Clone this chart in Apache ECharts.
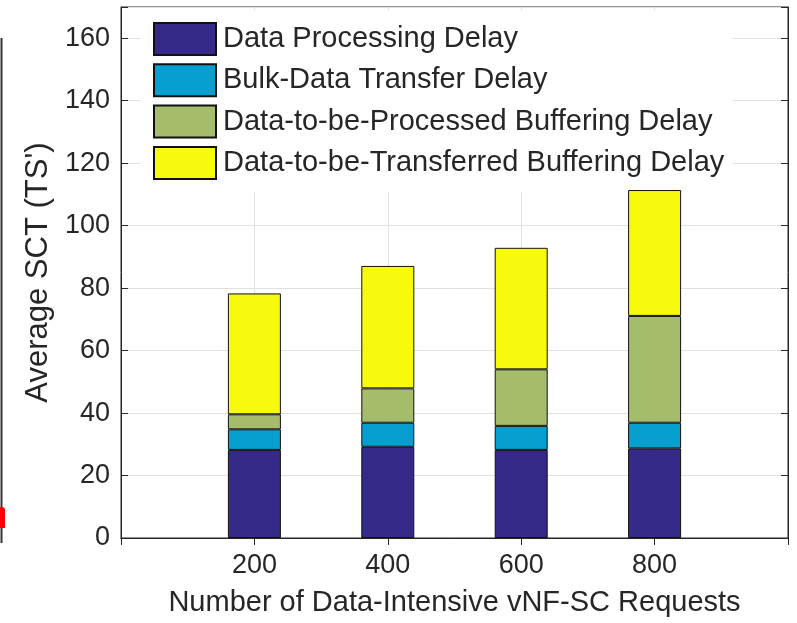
<!DOCTYPE html>
<html>
<head>
<meta charset="utf-8">
<script src="https://cdn.jsdelivr.net/npm/echarts@6/dist/echarts.min.js"></script>
<style>html,body{margin:0;padding:0;background:#fff;}#c{width:797px;height:623px;}</style>
</head>
<body>
<div id="c"></div>
<script>
const categories = [200, 400, 600, 800];
const axisEnds = [0, 1000];
const processingDelay = [28.2, 29.2, 28.2, 28.7];
const bulkTransferDelay = [6.6, 7.7, 7.7, 8.2];
const processedBufferDelay = [4.8, 11.0, 18.1, 34.2];
const transferredBufferDelay = [38.7, 39.2, 38.9, 40.3];
const seriesNames = ['Data Processing Delay', 'Bulk-Data Transfer Delay', 'Data-to-be-Processed Buffering Delay', 'Data-to-be-Transferred Buffering Delay'];
const colors = ['#352a87', '#069fcf', '#a5bd6a', '#f8fa0d'];

const FONT = 'Liberation Sans, Arial, Helvetica, sans-serif';
const TXT = '#262626';
const chart = echarts.init(document.getElementById('c'), null, {renderer: 'canvas'});
const allSeries = [processingDelay, bulkTransferDelay, processedBufferDelay, transferredBufferDelay];
const axisCats = [axisEnds[0]].concat(categories, [axisEnds[1]]).map(String);

chart.setOption({
  animation: false,
  backgroundColor: '#fff',
  grid: {left: 121, top: 7, width: 667, height: 531, show: true, borderColor: TXT, borderWidth: 1, backgroundColor: 'transparent', containLabel: false},
  legend: {
    orient: 'vertical', left: 140, top: 10,
    padding: [12, 8, 12, 13],
    backgroundColor: '#fff',
    icon: 'rect',
    itemWidth: 62, itemHeight: 32, itemGap: 7.3,
    textStyle: {fontFamily: FONT, fontSize: 29, lineHeight: 32, color: TXT, padding: [0, 0, 0, 2]},
    data: seriesNames, z: 1
  },
  xAxis: [{
    type: 'category', data: axisCats, boundaryGap: false,
    name: 'Number of Data-Intensive vNF-SC Requests', nameLocation: 'middle', nameGap: 50,
    nameTextStyle: {fontFamily: FONT, fontSize: 29, color: TXT},
    axisLine: {show: true, lineStyle: {color: TXT}},
    axisTick: {show: true, inside: true, length: 7, lineStyle: {color: TXT}},
    axisLabel: {margin: 14, fontFamily: FONT, fontSize: 27, color: TXT, interval: 0,
      formatter: v => (v === String(axisEnds[0]) || v === String(axisEnds[1])) ? '' : v},
    splitLine: {show: true, interval: 0, lineStyle: {color: '#e0e0e0', width: 1}}
  }, {
    type: 'category', data: axisCats, boundaryGap: false, position: 'top',
    axisLine: {show: true, lineStyle: {color: TXT}},
    axisTick: {show: true, inside: true, length: 7, interval: 0, lineStyle: {color: TXT}},
    axisLabel: {show: false}, splitLine: {show: false}
  }],
  yAxis: [{
    type: 'value', min: 0, max: 170, interval: 20,
    name: "Average SCT (TS')", nameLocation: 'middle', nameGap: 56,
    nameTextStyle: {fontFamily: FONT, fontSize: 31, color: TXT},
    axisLine: {show: true, lineStyle: {color: TXT}},
    axisTick: {show: true, inside: true, length: 7, lineStyle: {color: TXT}},
    axisLabel: {margin: 11, fontFamily: FONT, fontSize: 27, color: TXT, formatter: v => (v % 20 === 0) ? String(v) : ''},
    splitLine: {show: true, lineStyle: {color: '#e0e0e0', width: 1}}
  }, {
    type: 'value', min: 0, max: 170, interval: 20, position: 'right',
    axisLine: {show: true, lineStyle: {color: TXT}},
    axisTick: {show: true, inside: true, length: 7, lineStyle: {color: TXT}},
    axisLabel: {show: false}, splitLine: {show: false}
  }],
  series: allSeries.map((arr, i) => ({
    name: seriesNames[i], type: 'bar', stack: 'total', barWidth: 53, z: 3,
    xAxisIndex: 0, yAxisIndex: 0,
    itemStyle: {color: colors[i], borderColor: '#111', borderWidth: 1},
    data: ['-'].concat(arr, ['-'])
  })),
  graphic: [
    {type: 'line', shape: {x1: 1.5, y1: 38, x2: 1.5, y2: 543}, style: {stroke: '#333', lineWidth: 2}},
    {type: 'rect', shape: {x: 0, y: 507, width: 5, height: 21, r: [0, 3, 0, 0]}, style: {fill: '#ff0000'}}
  ]
});
</script>
</body>
</html>
